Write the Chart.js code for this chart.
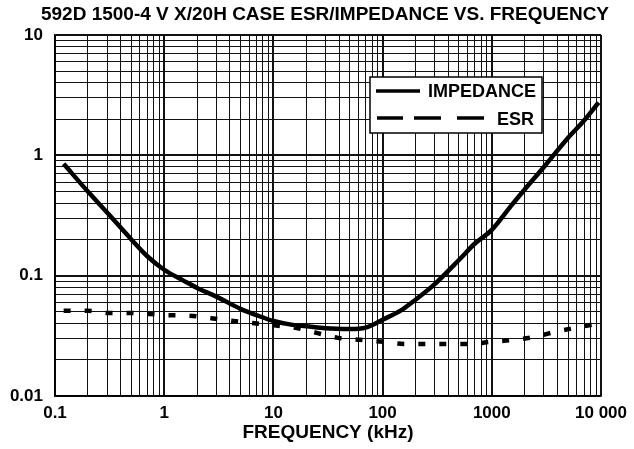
<!DOCTYPE html>
<html><head><meta charset="utf-8">
<script src="https://cdn.jsdelivr.net/npm/chart.js@4/dist/chart.umd.min.js"></script>
<style>html,body{margin:0;padding:0;background:#fff}#wrap{width:634px;height:449px}</style>
</head><body><div id="wrap"><canvas id="c" width="634" height="449"></canvas></div>
<script>
const chartTitle = '592D 1500-4 V X/20H CASE ESR/IMPEDANCE VS. FREQUENCY';
const xAxisTitle = 'FREQUENCY (kHz)';
const seriesNames = ['IMPEDANCE', 'ESR'];

const impedanceFreq = [0.12, 0.2, 0.3, 0.5, 0.7, 1, 1.5, 2, 3, 5, 7, 10, 15, 20, 30, 50, 70, 100, 150, 200, 300, 500, 700, 1000, 1500, 2000, 3000, 5000, 7000, 9500];
const impedanceOhm  = [0.85, 0.5, 0.335, 0.2, 0.145, 0.112, 0.091, 0.079, 0.067, 0.053, 0.047, 0.042, 0.039, 0.038, 0.0365, 0.036, 0.037, 0.043, 0.052, 0.063, 0.085, 0.135, 0.185, 0.24, 0.38, 0.52, 0.8, 1.4, 1.95, 2.75];

const esrFreq = [0.12, 0.2, 0.3, 0.47, 0.73, 1.05, 1.7, 2.7, 4.1, 6.3, 10, 15.9, 24.8, 39, 62, 103, 160, 250, 395, 627, 980, 1600, 2450, 3950, 6100, 9200];
const esrOhm  = [0.051, 0.051, 0.049, 0.049, 0.048, 0.047, 0.0465, 0.0443, 0.0422, 0.0405, 0.0387, 0.0369, 0.0335, 0.0304, 0.0293, 0.0282, 0.0271, 0.0271, 0.0271, 0.0271, 0.0282, 0.0293, 0.031, 0.0344, 0.0372, 0.0398];

const xTickValues = [0.1, 1, 10, 100, 1000, 10000];
const xTickLabels = ['0.1', '1', '10', '100', '1000', '10 000'];
const yTickValues = [0.01, 0.1, 1, 10];
const yTickLabels = ['0.01', '0.1', '1', '10'];

function gridValues(decades) {
  const out = [];
  for (let i = 0; i < decades.length - 1; i++) {
    for (let m = 1; m <= 9; m++) out.push(+(decades[i] * m).toPrecision(6));
  }
  out.push(decades[decades.length - 1]);
  return out;
}
function isDecade(v, list) { return list.some(d => Math.abs(v - d) / d < 1e-6); }
function labelFor(v, vals, labels) {
  const i = vals.findIndex(d => Math.abs(v - d) / d < 1e-6);
  return i >= 0 ? labels[i] : '';
}

const FONT = '"Liberation Sans", Arial, sans-serif';

const titlePlugin = {
  id: 'topTitle',
  afterDraw(chart) {
    const c = chart.ctx;
    c.save();
    c.fillStyle = '#000';
    c.font = 'bold 19px ' + FONT;
    c.textAlign = 'center';
    c.textBaseline = 'middle';
    c.fillText(chartTitle, 325, 15);
    c.restore();
  }
};

const legendPlugin = {
  id: 'boxLegend',
  afterDraw(chart) {
    const c = chart.ctx;
    const x0 = 370, y0 = 77, w = 172, h = 56;
    c.save();
    c.fillStyle = '#fff';
    c.fillRect(x0, y0, w, h);
    c.strokeStyle = '#000';
    c.lineWidth = 1.5;
    c.strokeRect(x0, y0, w, h);
    c.lineWidth = 3.5;
    c.lineCap = 'butt';
    c.beginPath(); c.moveTo(376, 91); c.lineTo(420, 91); c.stroke();
    [[377, 403], [414, 441], [457, 484]].forEach(([a, b]) => {
      c.beginPath(); c.moveTo(a, 118); c.lineTo(b, 118); c.stroke();
    });
    c.fillStyle = '#000';
    c.font = 'bold 18px ' + FONT;
    c.textAlign = 'right';
    c.textBaseline = 'middle';
    c.fillText(seriesNames[0], 536, 92);
    c.fillText(seriesNames[1], 534, 120);
    c.restore();
  }
};

const xGrid = gridValues(xTickValues);
const yGrid = gridValues(yTickValues);

new Chart(document.getElementById('c'), {
  type: 'line',
  data: {
    datasets: [
      {
        label: seriesNames[0],
        data: impedanceFreq.map((f, i) => ({ x: f, y: impedanceOhm[i] })),
        borderColor: '#000',
        borderWidth: 4.5,
        pointRadius: 0,
        cubicInterpolationMode: 'monotone',
        fill: false
      },
      {
        label: seriesNames[1],
        data: esrFreq.map((f, i) => ({ x: f, y: esrOhm[i] })),
        borderColor: '#000',
        borderWidth: 4.5,
        borderDash: [7, 14],
        borderCapStyle: 'butt',
        pointRadius: 0,
        cubicInterpolationMode: 'monotone',
        fill: false
      }
    ]
  },
  options: {
    responsive: false,
    animation: false,
    devicePixelRatio: 1,
    layout: { padding: { left: 0, right: 30, top: 35, bottom: 0 } },
    plugins: { legend: { display: false }, tooltip: { enabled: false }, title: { display: false } },
    scales: {
      x: {
        type: 'logarithmic',
        min: 0.1, max: 10000,
        afterBuildTicks: s => { s.ticks = xGrid.map(v => ({ value: v })); },
        afterFit: s => { s.height = 53; },
        ticks: {
          autoSkip: false, maxRotation: 0, padding: 7, color: '#000',
          font: { family: FONT, weight: 'bold', size: 17 },
          callback: v => labelFor(v, xTickValues, xTickLabels)
        },
        grid: {
          drawTicks: false,
          color: '#111',
          lineWidth: ctx => (ctx.tick && isDecade(ctx.tick.value, xTickValues)) ? 2 : 1
        },
        border: { display: true, color: '#000', width: 1.5 },
        title: {
          display: true, text: xAxisTitle, color: '#000',
          font: { family: FONT, weight: 'bold', size: 19 },
          padding: { top: 0, bottom: 5 }
        }
      },
      y: {
        type: 'logarithmic',
        min: 0.01, max: 10,
        afterBuildTicks: s => { s.ticks = yGrid.map(v => ({ value: v })); },
        afterFit: s => { s.width = 55; },
        ticks: {
          autoSkip: false, padding: 12, color: '#000',
          font: { family: FONT, weight: 'bold', size: 17 },
          callback: v => labelFor(v, yTickValues, yTickLabels)
        },
        grid: {
          drawTicks: false,
          color: '#111',
          lineWidth: ctx => (ctx.tick && isDecade(ctx.tick.value, yTickValues)) ? 2 : 1
        },
        border: { display: true, color: '#000', width: 1.5 }
      }
    }
  },
  plugins: [titlePlugin, legendPlugin]
});
</script></body></html>
